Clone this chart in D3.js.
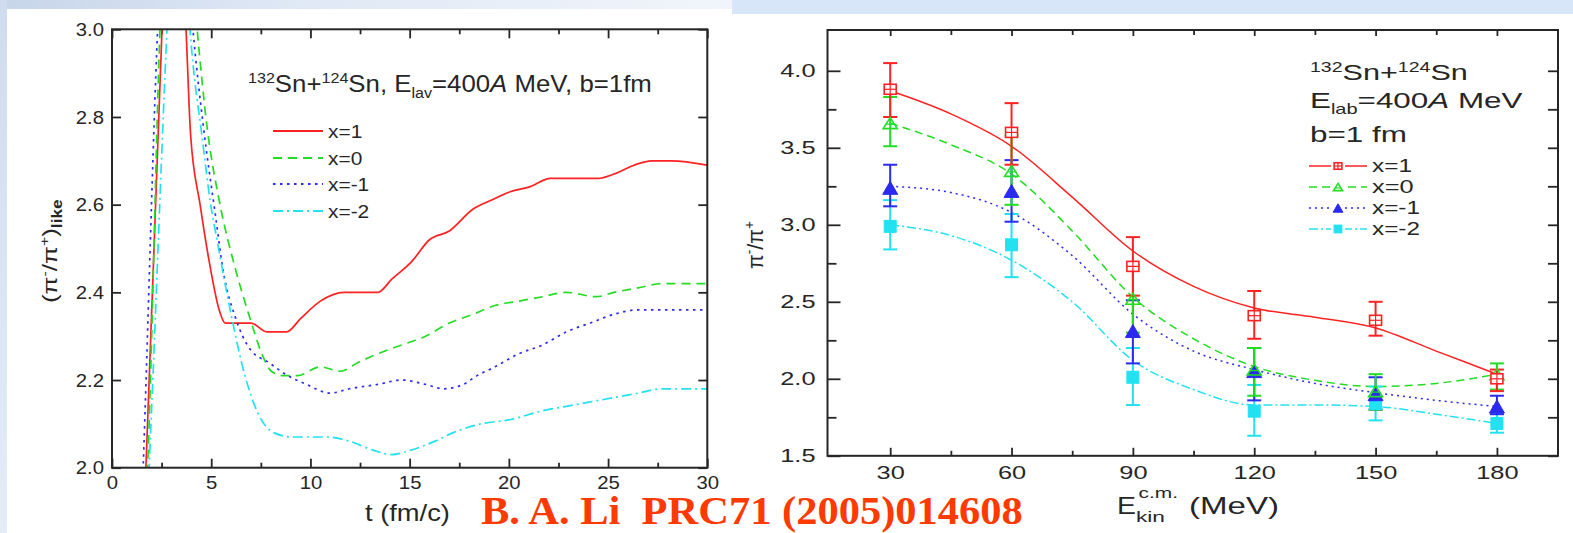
<!DOCTYPE html>
<html><head><meta charset="utf-8">
<script src="https://cdn.jsdelivr.net/npm/d3@7"></script>
<style>
body{margin:0;background:#fff;}
svg{display:block;}
</style>
</head><body>
<svg id="c" width="1573" height="533"></svg>
<script>
// ---------- LEFT PANEL DATA: (pi-/pi+)like vs t ----------
const tDomain = [0, 30];
const ratioDomainL = [2.0, 3.0];
const tMajorTicks = [0, 5, 10, 15, 20, 25, 30];
const tMinorTicks = [2.5, 7.5, 12.5, 17.5, 22.5, 27.5];
const yTicksL = [2.0, 2.2, 2.4, 2.6, 2.8, 3.0];
const seriesNames = ["x=1", "x=0", "x=-1", "x=-2"];
// [t (fm/c), ratio]
const lineX1 = [[1.55,1.85],[1.71,2.0],[2.52,3.0],[3.1,3.5],[3.73,3.0],[3.96,2.76],[4.44,2.60],[4.9,2.47],[5.4,2.36],[5.7,2.33],[6.2,2.33],[7.0,2.33],[7.8,2.31],[8.8,2.31],[9.5,2.34],[10.5,2.38],[11.7,2.40],[13.4,2.40],[14.1,2.43],[15.1,2.47],[16.0,2.52],[17.0,2.54],[18.2,2.59],[19.1,2.61],[20.1,2.63],[21.0,2.64],[22.1,2.66],[22.9,2.66],[24.5,2.66],[25.3,2.67],[26.3,2.69],[27.2,2.70],[28.2,2.70],[30,2.69]];
const lineX0 = [[1.62,1.85],[1.79,2.0],[2.42,3.0],[3.3,3.6],[4.29,3.0],[4.81,2.77],[5.4,2.61],[6.24,2.45],[6.96,2.34],[7.55,2.26],[8.03,2.22],[8.63,2.21],[9.34,2.21],[10.5,2.23],[11.5,2.22],[12.4,2.24],[13.4,2.26],[14.6,2.28],[15.8,2.30],[17.0,2.33],[18.2,2.35],[19.3,2.37],[20.5,2.38],[21.7,2.39],[22.9,2.40],[24.4,2.39],[25.3,2.40],[26.5,2.41],[27.7,2.42],[30,2.42]];
const lineXm1 = [[1.45,1.85],[1.57,2.0],[2.3,3.0],[3.2,3.6],[4.08,3.0],[4.6,2.78],[5.2,2.58],[5.6,2.45],[6.24,2.34],[6.96,2.27],[7.9,2.24],[8.86,2.21],[9.8,2.19],[11.0,2.17],[11.96,2.18],[13.4,2.19],[14.6,2.20],[15.8,2.19],[16.7,2.18],[17.7,2.19],[18.4,2.21],[19.3,2.23],[20.5,2.26],[21.7,2.28],[22.9,2.31],[24.1,2.33],[25.3,2.35],[26.5,2.36],[27.7,2.36],[30,2.36]];
const lineXm2 = [[1.72,1.85],[1.87,2.0],[2.77,3.0],[3.3,3.5],[3.93,3.0],[4.58,2.74],[4.94,2.61],[5.29,2.52],[6.0,2.35],[6.7,2.21],[7.4,2.12],[8.15,2.08],[9.1,2.07],[10.8,2.07],[12.0,2.06],[13.15,2.04],[14.1,2.03],[15.06,2.04],[16.25,2.06],[17.2,2.08],[18.6,2.10],[20.1,2.11],[21.7,2.13],[22.9,2.14],[24.1,2.15],[25.3,2.16],[26.5,2.17],[27.7,2.18],[30,2.18]];

// ---------- RIGHT PANEL DATA: pi-/pi+ vs E_kin ----------
const energies = [30, 60, 90, 120, 150, 180];
const eMinorTicks = [45, 75, 105, 135, 165];
const yTicksR = [1.5, 2.0, 2.5, 3.0, 3.5, 4.0];
const yMinorR = [1.75, 2.25, 2.75, 3.25, 3.75];
const ptsX1  = [3.88, 3.60, 2.73, 2.41, 2.38, 2.00];
const hiX1   = [4.05, 3.79, 2.92, 2.57, 2.50, 2.06];
const loX1   = [3.70, 3.39, 2.54, 2.26, 2.28, 1.92];
const ptsX0  = [3.66, 3.35, 2.52, 2.06, 1.92, 2.03];
const hiX0   = [3.83, 3.58, 2.74, 2.20, 2.03, 2.10];
const loX0   = [3.51, 3.13, 2.30, 1.89, 1.80, 1.93];
const ptsXm1 = [3.24, 3.22, 2.31, 2.05, 1.90, 1.82];
const hiXm1  = [3.39, 3.42, 2.51, 2.20, 2.01, 1.89];
const loXm1  = [3.12, 3.02, 2.10, 1.86, 1.80, 1.77];
const ptsXm2 = [2.99, 2.87, 2.01, 1.79, 1.84, 1.71];
const hiXm2  = [3.16, 3.07, 2.20, 1.96, 1.95, 1.78];
const loXm2  = [2.84, 2.66, 1.83, 1.63, 1.73, 1.65];
const curveE   = [30, 45, 60, 75, 90, 105, 120, 135, 150, 165, 180];
const curveX1  = [3.87, 3.72, 3.51, 3.18, 2.83, 2.60, 2.46, 2.40, 2.33, 2.18, 2.03];
const curveX0  = [3.66, 3.52, 3.33, 2.96, 2.53, 2.26, 2.08, 1.99, 1.95, 1.97, 2.03];
const curveXm1 = [3.25, 3.21, 3.08, 2.80, 2.42, 2.18, 2.06, 1.97, 1.91, 1.86, 1.82];
const curveXm2 = [3.00, 2.93, 2.77, 2.50, 2.12, 1.93, 1.83, 1.83, 1.82, 1.77, 1.71];

// ---------- STYLE ----------
const SANS = '"Liberation Sans", Arial, Helvetica, sans-serif';
const INK = "#262626";
const colors = ["#ff2222", "#22dd22", "#2a2af0", "#22e2f2"];
const dashL = [null, "9,6", "2.5,4.5", "10,4,2,4"];
const dashR = [null, "8,5", "2,4", "9,3,2,3"];

const svg = d3.select("#c");

// background decoration (slide)
const defs = svg.append("defs");
const gradTop = defs.append("linearGradient").attr("id", "gTop").attr("x1", 0).attr("x2", 1).attr("y1", 0).attr("y2", 0);
gradTop.append("stop").attr("offset", 0).attr("stop-color", "#c7d5ea");
gradTop.append("stop").attr("offset", 0.4).attr("stop-color", "#dfe8f5");
gradTop.append("stop").attr("offset", 1).attr("stop-color", "#f1f5fb");
const gradLeft = defs.append("linearGradient").attr("id", "gLeft").attr("x1", 0).attr("x2", 0).attr("y1", 0).attr("y2", 1);
gradLeft.append("stop").attr("offset", 0).attr("stop-color", "#cfdcef");
gradLeft.append("stop").attr("offset", 1).attr("stop-color", "#e4ecf7");
svg.append("rect").attr("x",0).attr("y",0).attr("width",1573).attr("height",533).attr("fill","#ffffff");
svg.append("rect").attr("x",0).attr("y",0).attr("width",732).attr("height",9).attr("fill","url(#gTop)");
svg.append("rect").attr("x",732).attr("y",0).attr("width",841).attr("height",14).attr("fill","#d8e6f9");
svg.append("rect").attr("x",0).attr("y",0).attr("width",7).attr("height",533).attr("fill","url(#gLeft)");

// helper: text fitted to a target width via horizontal scaling
function fitText(x, y, targetW, build, anchor) {
  const g = svg.append("g").attr("transform", `translate(${x},${y})`);
  const t = g.append("text").attr("font-family", SANS).attr("fill", INK);
  build(t);
  const w = t.node().getBBox().width;
  const s = targetW / w;
  let dx = 0;
  if (anchor === "end") dx = -targetW;
  if (anchor === "middle") dx = -targetW / 2;
  t.attr("transform", `translate(${dx},0) scale(${s},1)`);
  return t;
}

// =================== LEFT PANEL ===================
const xL = d3.scaleLinear().domain(tDomain).range([112, 707.3]);
const yL = d3.scaleLinear().domain(ratioDomainL).range([467.7, 29.3]);
const sxL = 1.07;

svg.append("clipPath").attr("id","clipL").append("rect")
  .attr("x", xL(0)).attr("y", yL(3)).attr("width", xL(30)-xL(0)).attr("height", yL(2)-yL(3));

function styleAxis(g, fs, sx, side, pad) {
  g.select(".domain").remove();
  g.selectAll(".tick line").attr("stroke", INK).attr("stroke-width", 1.8);
  g.selectAll(".tick text").attr("fill", INK).attr("font-family", SANS).attr("font-size", fs);
  if (side === "bottom") g.selectAll(".tick text").attr("transform", `scale(${sx},1)`);
  if (side === "left") g.selectAll(".tick text").attr("x", 0).attr("transform", `translate(${-pad},0) scale(${sx},1)`);
}

// bottom axis
svg.append("g").attr("transform", `translate(0,${yL(2)})`)
  .call(d3.axisBottom(xL).tickValues(tMajorTicks).tickSize(-9).tickPadding(8).tickFormat(d3.format("d")))
  .call(g => styleAxis(g, 19, sxL, "bottom"));
svg.append("g").attr("transform", `translate(0,${yL(2)})`)
  .call(d3.axisBottom(xL).tickValues(tMinorTicks).tickSize(-5).tickFormat(""))
  .call(g => styleAxis(g, 19, sxL));
// top axis
svg.append("g").attr("transform", `translate(0,${yL(3)})`)
  .call(d3.axisTop(xL).tickValues(tMajorTicks).tickSize(-9).tickFormat(""))
  .call(g => styleAxis(g, 19, sxL));
svg.append("g").attr("transform", `translate(0,${yL(3)})`)
  .call(d3.axisTop(xL).tickValues(tMinorTicks).tickSize(-5).tickFormat(""))
  .call(g => styleAxis(g, 19, sxL));
// left axis
svg.append("g").attr("transform", `translate(${xL(0)},0)`)
  .call(d3.axisLeft(yL).tickValues(yTicksL).tickSize(-9).tickPadding(8).tickFormat(d3.format(".1f")))
  .call(g => styleAxis(g, 19, sxL, "left", 8));
// right axis
svg.append("g").attr("transform", `translate(${xL(30)},0)`)
  .call(d3.axisRight(yL).tickValues(yTicksL).tickSize(-9).tickFormat(""))
  .call(g => styleAxis(g, 19, sxL));

// lines
const lineGenL = d3.line().x(d => xL(d[0])).y(d => yL(d[1])).curve(d3.curveMonotoneX);
const leftSeries = [lineX1, lineX0, lineXm1, lineXm2];
const gL = svg.append("g").attr("clip-path", "url(#clipL)");
leftSeries.forEach((s, i) => {
  gL.append("path").attr("d", lineGenL(s)).attr("fill", "none")
    .attr("stroke", colors[i]).attr("stroke-width", 1.7)
    .attr("stroke-dasharray", dashL[i]);
});

// frame
svg.append("rect").attr("x", xL(0)).attr("y", yL(3)).attr("width", xL(30)-xL(0)).attr("height", yL(2)-yL(3))
  .attr("fill", "none").attr("stroke", INK).attr("stroke-width", 2);

// annotation
fitText(248, 92, 404, t => {
  t.attr("font-size", 24);
  t.append("tspan").attr("font-size", 15).attr("dy", -9).text("132");
  t.append("tspan").attr("dy", 9).text("Sn+");
  t.append("tspan").attr("font-size", 15).attr("dy", -9).text("124");
  t.append("tspan").attr("dy", 9).text("Sn, E");
  t.append("tspan").attr("font-size", 15).attr("dy", 6).text("lav");
  t.append("tspan").attr("dy", -6).text("=400");
  t.append("tspan").attr("font-style", "italic").text("A");
  t.append("tspan").text(" MeV, b=1fm");
});

// legend
const legRowsL = [131, 158, 184, 211];
seriesNames.forEach((n, i) => {
  svg.append("line").attr("x1", 273).attr("x2", 323).attr("y1", legRowsL[i]).attr("y2", legRowsL[i])
    .attr("stroke", colors[i]).attr("stroke-width", 1.8).attr("stroke-dasharray", dashL[i]);
  const g = svg.append("g").attr("transform", `translate(328,${legRowsL[i] + 7})`);
  g.append("text").attr("font-family", SANS).attr("font-size", 19).attr("fill", INK)
    .attr("transform", `scale(${sxL + 0.03},1)`).text(n);
});

// axis titles
fitText(365, 521, 85, t => { t.attr("font-size", 24).text("t (fm/c)"); });
(function () {
  const g = svg.append("g").attr("transform", "translate(57,251) rotate(-90)");
  const t = g.append("text").attr("font-family", SANS).attr("fill", INK).attr("font-size", 21);
  t.append("tspan").text("(π");
  t.append("tspan").attr("font-size", 13).attr("dy", -8).text("-");
  t.append("tspan").attr("dy", 8).text("/π");
  t.append("tspan").attr("font-size", 13).attr("dy", -8).text("+");
  t.append("tspan").attr("dy", 8).text(")");
  t.append("tspan").attr("font-size", 14).attr("dy", 5).attr("font-weight", "bold").text("like");
  const w = t.node().getBBox().width;
  t.attr("transform", `translate(${-52},0) scale(${104 / w},1)`);
})();

// =================== RIGHT PANEL ===================
const xR = d3.scaleLinear().domain([14.5, 195.1]).range([827.5, 1558]);
const yR0 = d3.scaleLinear().domain([1.5, 4.0]).range([455.8, 70.8]);
const yR = d3.scaleLinear().domain([1.5, yR0.invert(30)]).range([455.8, 30]);
const sxR = 1.45;

// axes
svg.append("g").attr("transform", `translate(0,${yR(1.5)})`)
  .call(d3.axisBottom(xR).tickValues(energies).tickSize(-8).tickPadding(11).tickFormat(d3.format("d")))
  .call(g => styleAxis(g, 17.5, sxR, "bottom"));
svg.append("g").attr("transform", `translate(0,${yR(1.5)})`)
  .call(d3.axisBottom(xR).tickValues(eMinorTicks).tickSize(-5).tickFormat(""))
  .call(g => styleAxis(g, 17, sxR));
svg.append("g").attr("transform", `translate(0,30)`)
  .call(d3.axisTop(xR).tickValues(energies).tickSize(-6).tickFormat(""))
  .call(g => styleAxis(g, 17, sxR));
svg.append("g").attr("transform", `translate(0,30)`)
  .call(d3.axisTop(xR).tickValues(eMinorTicks).tickSize(-5).tickFormat(""))
  .call(g => styleAxis(g, 17, sxR));
svg.append("g").attr("transform", `translate(${xR.range()[0]},0)`)
  .call(d3.axisLeft(yR).tickValues(yTicksR).tickSize(-13).tickPadding(12).tickFormat(d3.format(".1f")))
  .call(g => styleAxis(g, 17.5, sxR, "left", 12));
svg.append("g").attr("transform", `translate(${xR.range()[0]},0)`)
  .call(d3.axisLeft(yR).tickValues(yMinorR).tickSize(-9).tickFormat(""))
  .call(g => styleAxis(g, 17, sxR));
svg.append("g").attr("transform", `translate(${xR.range()[1]},0)`)
  .call(d3.axisRight(yR).tickValues(yTicksR.concat(yMinorR)).tickSize(-10).tickFormat(""))
  .call(g => styleAxis(g, 17, sxR));

// curves
const curveSeries = [curveX1, curveX0, curveXm1, curveXm2];
const lineGenR = d3.line().x((d, i) => xR(curveE[i])).y(d => yR(d)).curve(d3.curveMonotoneX);
curveSeries.forEach((s, i) => {
  svg.append("path").attr("d", lineGenR(s)).attr("fill", "none")
    .attr("stroke", colors[i]).attr("stroke-width", 1.5).attr("stroke-dasharray", dashR[i]);
});

// error bars + markers
const ptsSeries = [ptsX1, ptsX0, ptsXm1, ptsXm2];
const hiSeries = [hiX1, hiX0, hiXm1, hiXm2];
const loSeries = [loX1, loX0, loXm1, loXm2];

function drawMarker(g, i, cx, cy, scale) {
  const c = colors[i];
  const k = scale || 1;
  if (i === 0) {
    const w = 12 * k, h = 10 * k;
    g.append("rect").attr("x", cx - w/2).attr("y", cy - h/2).attr("width", w).attr("height", h)
      .attr("fill", "#fff").attr("stroke", c).attr("stroke-width", 1.6);
    g.append("line").attr("x1", cx - w/2).attr("x2", cx + w/2).attr("y1", cy).attr("y2", cy).attr("stroke", c).attr("stroke-width", 1.2);
    g.append("line").attr("x1", cx).attr("x2", cx).attr("y1", cy - h/2).attr("y2", cy + h/2).attr("stroke", c).attr("stroke-width", 1.2);
  } else if (i === 1) {
    const w = 14 * k, h = 11 * k;
    g.append("path").attr("d", `M${cx},${cy - h/2}L${cx + w/2},${cy + h/2}L${cx - w/2},${cy + h/2}Z`)
      .attr("fill", "none").attr("stroke", c).attr("stroke-width", 1.6);
    g.append("line").attr("x1", cx - w/3).attr("x2", cx + w/3).attr("y1", cy + 1).attr("y2", cy + 1).attr("stroke", c).attr("stroke-width", 1.2);
  } else if (i === 2) {
    const w = 15 * k, h = 13 * k;
    g.append("path").attr("d", `M${cx},${cy - h/2}L${cx + w/2},${cy + h/2}L${cx - w/2},${cy + h/2}Z`)
      .attr("fill", c).attr("stroke", c).attr("stroke-width", 1);
  } else {
    const w = 12 * k, h = 12 * k;
    g.append("rect").attr("x", cx - w/2).attr("y", cy - h/2).attr("width", w).attr("height", h)
      .attr("fill", c).attr("stroke", c).attr("stroke-width", 1);
  }
}

const gPts = svg.append("g");
[3, 2, 1, 0].forEach(i => {
  energies.forEach((e, j) => {
    const cx = xR(e);
    gPts.append("line").attr("x1", cx).attr("x2", cx).attr("y1", yR(loSeries[i][j])).attr("y2", yR(hiSeries[i][j]))
      .attr("stroke", colors[i]).attr("stroke-width", 2);
    [loSeries[i][j], hiSeries[i][j]].forEach(v => {
      gPts.append("line").attr("x1", cx - 7).attr("x2", cx + 7).attr("y1", yR(v)).attr("y2", yR(v))
        .attr("stroke", colors[i]).attr("stroke-width", 2);
    });
  });
});
[3, 2, 1, 0].forEach(i => {
  energies.forEach((e, j) => drawMarker(gPts, i, xR(e), yR(ptsSeries[i][j])));
});

// frame
svg.append("rect").attr("x", xR.range()[0]).attr("y", 30).attr("width", xR.range()[1] - xR.range()[0]).attr("height", yR(1.5) - 30)
  .attr("fill", "none").attr("stroke", INK).attr("stroke-width", 2);

// annotation
fitText(1310, 80, 158, t => {
  t.attr("font-size", 22);
  t.append("tspan").attr("font-size", 14).attr("dy", -8).text("132");
  t.append("tspan").attr("dy", 8).text("Sn+");
  t.append("tspan").attr("font-size", 14).attr("dy", -8).text("124");
  t.append("tspan").attr("dy", 8).text("Sn");
});
fitText(1310, 108, 213, t => {
  t.attr("font-size", 22);
  t.append("tspan").text("E");
  t.append("tspan").attr("font-size", 14).attr("dy", 6).text("lab");
  t.append("tspan").attr("dy", -6).text("=400");
  t.append("tspan").attr("font-style", "italic").text("A");
  t.append("tspan").text(" MeV");
});
fitText(1310, 142, 97, t => { t.attr("font-size", 22).text("b=1 fm"); });

// legend
const legRowsR = [166, 187, 208, 229];
const legLabelW = [40, 42, 48, 48];
seriesNames.forEach((n, i) => {
  svg.append("line").attr("x1", 1309).attr("x2", 1367).attr("y1", legRowsR[i]).attr("y2", legRowsR[i])
    .attr("stroke", colors[i]).attr("stroke-width", 1.5).attr("stroke-dasharray", dashR[i]);
  svg.append("rect").attr("x", 1331).attr("y", legRowsR[i] - 6).attr("width", 14).attr("height", 12).attr("fill", "#fff");
  drawMarker(svg, i, 1338, legRowsR[i], 0.65);
  fitText(1372, legRowsR[i] + 6, legLabelW[i], t => { t.attr("font-size", 17.5).text(n); });
});

// axis titles
fitText(1117, 514, 19, t => { t.attr("font-size", 24).text("E"); });
fitText(1138.5, 498, 39.5, t => { t.attr("font-size", 15).text("c.m."); });
fitText(1136, 522, 29, t => { t.attr("font-size", 15).text("kin"); });
fitText(1189, 514, 90, t => { t.attr("font-size", 24).text("(MeV)"); });
(function () {
  const g = svg.append("g").attr("transform", "translate(763,245) rotate(-90)");
  const t = g.append("text").attr("font-family", SANS).attr("fill", INK).attr("font-size", 22);
  t.append("tspan").text("π");
  t.append("tspan").attr("font-size", 14).attr("dy", -9).text("-");
  t.append("tspan").attr("dy", 9).text("/π");
  t.append("tspan").attr("font-size", 14).attr("dy", -9).text("+");
  const w = t.node().getBBox().width;
  t.attr("transform", `translate(${-24},0) scale(${48 / w},1)`);
})();

// citation
(function () {
  const g = svg.append("g").attr("transform", "translate(481,524)");
  const t = g.append("text").attr("font-family", '"Liberation Serif", "Times New Roman", serif')
    .attr("font-weight", "bold").attr("font-size", 41).attr("fill", "#ff3a00")
    .attr("style", "white-space:pre").text("B. A. Li  PRC71 (2005)014608");
  const w = t.node().getBBox().width;
  t.attr("transform", `scale(${542 / w},1)`);
})();
</script>
</body></html>
